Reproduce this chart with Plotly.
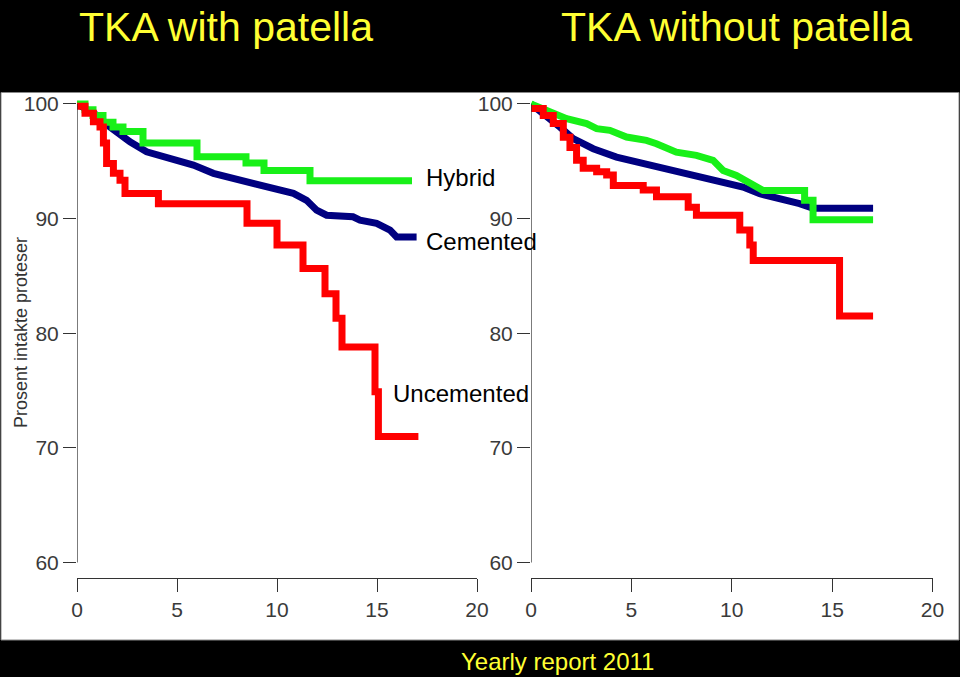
import plotly.graph_objects as go

# ---------------- data ----------------
years_ticks = [0, 5, 10, 15, 20]
pct_ticks = [60, 70, 80, 90, 100]

# TKA with patella
wp_hybrid_t = [0, 0.4, 0.8, 1.3, 1.8, 2.3, 3.3, 6.0, 8.45, 9.35, 11.65, 16.75]
wp_hybrid_s = [100, 99.5, 99.0, 98.4, 98.0, 97.6, 96.6, 95.4, 94.85, 94.2, 93.3, 93.3]

wp_cem_t = [0, 0.5, 0.98, 1.65, 2.65, 3.48, 4.65, 5.82, 6.82, 8.15, 9.48, 10.82,
            11.48, 11.98, 12.48, 13.8, 14.15, 14.98, 15.65, 15.98, 16.98]
wp_cem_s = [100, 99.5, 99.04, 98.0, 96.7, 95.83, 95.25, 94.67, 93.95, 93.36, 92.78, 92.2,
            91.6, 90.74, 90.3, 90.16, 89.87, 89.58, 89.0, 88.4, 88.4]

wp_uncem_t = [0, 0.4, 0.82, 1.15, 1.32, 1.48, 1.82, 2.15, 2.4, 4.07, 8.5, 10.0,
              11.3, 12.4, 12.95, 13.25, 14.9, 15.07, 17.07]
wp_uncem_s = [99.8, 99.2, 98.45, 98.0, 96.6, 94.8, 93.95, 93.35, 92.2, 91.3, 89.6, 87.7,
              85.65, 83.45, 81.3, 78.8, 74.9, 71.0, 71.0]

# TKA without patella
np_hybrid_t = [0, 0.95, 1.78, 2.77, 3.27, 3.93, 4.76, 5.75, 6.25, 7.24, 8.24, 9.07, 9.57,
               10.23, 10.73, 11.23, 11.56, 13.63, 13.63, 14.05, 14.05, 17.04]
np_hybrid_s = [100, 99.3, 98.72, 98.29, 97.85, 97.7, 97.12, 96.83, 96.54, 95.8, 95.52, 95.08, 94.2,
               93.77, 93.34, 92.75, 92.46, 92.46, 91.6, 91.6, 89.9, 89.9]

np_cem_t = [0, 0.78, 1.44, 2.1, 3.1, 4.26, 5.59, 6.92, 8.24, 9.4, 10.56, 11.39, 12.55,
            13.38, 14.05, 17.04]
np_cem_s = [100, 99.01, 97.99, 96.98, 96.1, 95.37, 94.8, 94.2, 93.62, 93.19, 92.75, 92.17, 91.74,
            91.3, 90.9, 90.9]

np_uncem_t = [0, 0.61, 1.11, 1.61, 1.94, 2.27, 2.6, 3.27, 3.77, 4.1, 5.59, 6.25, 7.83, 8.24,
              10.4, 10.9, 11.07, 15.37, 17.04]
np_uncem_s = [99.6, 99.0, 98.3, 97.1, 96.2, 95.1, 94.4, 94.1, 93.8, 92.9, 92.5, 91.9, 91.0, 90.3,
              89.0, 87.7, 86.35, 81.5, 81.5]

panel_titles = ["TKA with patella", "TKA without patella"]
series_labels = ["Hybrid", "Cemented", "Uncemented"]
y_title = "Prosent intakte proteser"
footer = "Yearly report 2011"

# ---------------- styling ----------------
W, H = 960, 677
GREEN, BLUE, RED = "#18f018", "#000080", "#ff0000"
YELLOW = "#ffff33"
FONT = "Arial, Liberation Sans, sans-serif"
LW = 7


def px(x):
    return x / W


def py(y):
    return 1 - y / H


fig = go.Figure()

def add(t, s, color, shape, xa, ya):
    fig.add_trace(go.Scatter(x=t, y=s, mode="lines",
                             line=dict(color=color, width=LW, shape=shape),
                             xaxis=xa, yaxis=ya, hoverinfo="skip"))

add(wp_cem_t, wp_cem_s, BLUE, "linear", "x", "y")
add(wp_hybrid_t, wp_hybrid_s, GREEN, "hv", "x", "y")
add(wp_uncem_t, wp_uncem_s, RED, "hv", "x", "y")
add(np_cem_t, np_cem_s, BLUE, "linear", "x2", "y2")
add(np_hybrid_t, np_hybrid_s, GREEN, "linear", "x2", "y2")
add(np_uncem_t, np_uncem_s, RED, "hv", "x2", "y2")

# y mapping: 100 -> 104px, 60 -> 562.5px ; bottom of plot area at 578px
ppu = (562.5 - 104) / 40.0
y_hi = 100.5
y_lo = 60 - (578 - 562.5) / ppu
top_px = 104 - (y_hi - 100) * ppu
ydom = [py(578), py(top_px)]

axis_font = dict(family=FONT, size=21, color="#3a3a3a")
xcommon = dict(range=[0, 20], tickvals=years_ticks, ticks="outside", ticklen=13,
               tickwidth=1.3, tickcolor="#333", showline=True, linecolor="#333",
               linewidth=1.3, showgrid=False, zeroline=False, tickfont=axis_font,
               fixedrange=True, automargin=False)
ycommon = dict(range=[y_lo, y_hi], tickvals=pct_ticks, ticks="outside", ticklen=13,
               tickwidth=1.3, tickcolor="#333", showline=False, showgrid=False,
               zeroline=False, tickfont=axis_font, domain=ydom, fixedrange=True,
               automargin=False)

fig.update_layout(
    width=W, height=H, autosize=False,
    margin=dict(l=0, r=0, t=0, b=0, pad=0, autoexpand=False),
    paper_bgcolor="black",
    plot_bgcolor="rgba(0,0,0,0)",
    showlegend=False,
    xaxis=dict(domain=[px(77), px(477)], anchor="y", **xcommon),
    yaxis=dict(anchor="x", **ycommon),
    xaxis2=dict(domain=[px(531), px(932.5)], anchor="y2", **xcommon),
    yaxis2=dict(anchor="x2", **ycommon),
)

# white panel
fig.add_shape(type="rect", xref="paper", yref="paper",
              x0=px(1), x1=px(959), y0=py(640), y1=py(92.5),
              fillcolor="white", line=dict(color="#888", width=1), layer="below")
# R-style y axis lines spanning the tick range
for xr, yr in (("x", "y"), ("x2", "y2")):
    fig.add_shape(type="line", xref=xr, yref=yr, x0=0, x1=0,
                  y0=pct_ticks[0], y1=pct_ticks[-1],
                  line=dict(color="#333", width=1.3))

# titles
title_font = dict(family=FONT, size=41, color=YELLOW)
fig.add_annotation(text=panel_titles[0], xref="paper", yref="paper", x=px(226), y=py(27),
                   showarrow=False, font=title_font, xanchor="center", yanchor="middle",
                   borderpad=0)
fig.add_annotation(text=panel_titles[1], xref="paper", yref="paper", x=px(736), y=py(27),
                   showarrow=False, font=title_font, xanchor="center", yanchor="middle",
                   borderpad=0)
fig.add_annotation(text=footer, xref="paper", yref="paper", x=px(557), y=py(661),
                   showarrow=False, font=dict(family=FONT, size=24, color=YELLOW),
                   xanchor="center", yanchor="middle")
# y axis title
fig.add_annotation(text=y_title, xref="paper", yref="paper", x=px(21), y=py(333),
                   textangle=-90, showarrow=False,
                   font=dict(family=FONT, size=18, color="#333"),
                   xanchor="center", yanchor="middle")
# series labels
lab_font = dict(family=FONT, size=24, color="black")
for text, x, y in ((series_labels[0], 424, 178), (series_labels[1], 424, 241),
                   (series_labels[2], 391, 393)):
    fig.add_annotation(text=text, xref="paper", yref="paper", x=px(x), y=py(y),
                       showarrow=False, font=lab_font, xanchor="left", yanchor="middle")

fig.write_html(
    "out.html",
    config={"displayModeBar": False, "responsive": False},
    post_script="document.body.style.margin='0';document.body.style.background='black';"
                "document.body.style.overflow='hidden';",
)
